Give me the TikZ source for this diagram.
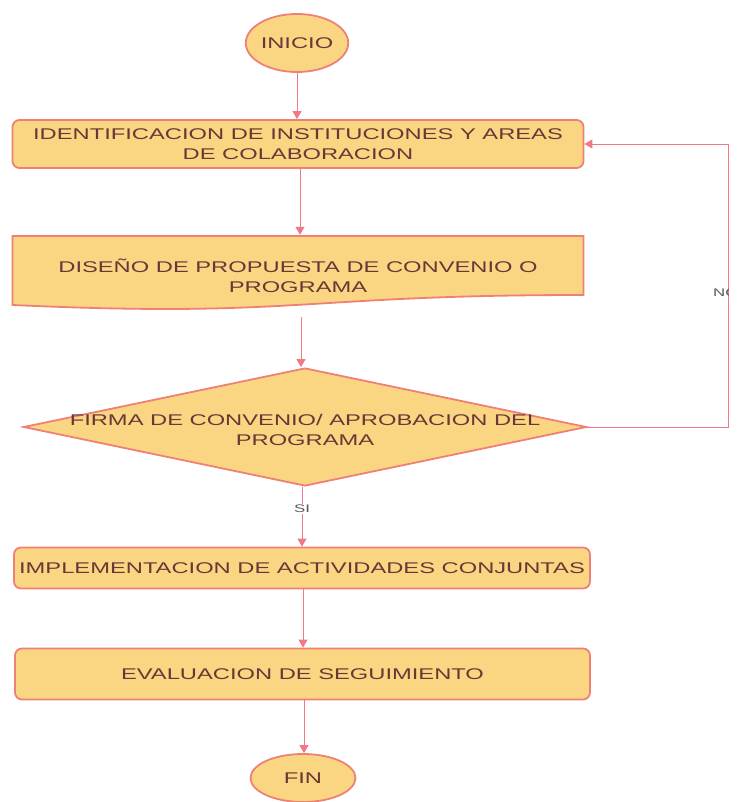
\documentclass[tikz,border=0pt]{standalone}
\usepackage{fontspec}
\setmainfont[FakeStretch=1.53]{Liberation Sans}
\usetikzlibrary{arrows.meta,shapes.geometric}
\definecolor{fillc}{RGB}{250,214,130}
\definecolor{edgec}{RGB}{238,128,118}
\definecolor{linec}{RGB}{240,120,135}
\definecolor{txtc}{RGB}{105,55,55}
\begin{document}
\begin{tikzpicture}[x=1pt,y=-1pt,
  every node/.style={font=\fontsize{15.5}{20}\selectfont, text=txtc},
  procbox/.style={draw=edgec, fill=fillc, line width=1.8pt, rounded corners=7pt, align=center, inner sep=2pt},
  term/.style={ellipse, draw=edgec, fill=fillc, line width=1.8pt, inner sep=0pt},
  decis/.style={diamond, draw=edgec, fill=fillc, line width=1.8pt, inner sep=0pt},
  docshape/.style={draw=edgec, fill=fillc, line width=1.8pt},
  conn/.style={draw=linec, line width=0.9pt, -{Triangle[length=8pt,width=9pt]}},
  plainline/.style={draw=linec, line width=0.9pt},
  lbl/.style={font=\fontsize{11}{13}\selectfont, text=black!65}]
\useasboundingbox (0,0) rectangle (739,802);

% terminals
\node[term, minimum width=95pt, minimum height=58pt] (ini) at (297,43) {INICIO};
\node[term, minimum width=105pt, minimum height=48pt] (fin) at (303,778) {FIN};

% box 1
\node[procbox, minimum width=571pt, minimum height=48pt] (b1) at (298,144)
  {IDENTIFICACION DE INSTITUCIONES Y AREAS\\DE COLABORACION};

% box 2 (document shape)
\draw[docshape] (12.5,236) -- (583.5,236) -- (583.5,295)
  .. controls (298,295) and (298,318) .. (12.5,305) -- cycle;
\node[align=center, minimum width=571pt, minimum height=82pt, inner sep=0pt] (b2) at (298,276)
  {DISE\~NO DE PROPUESTA DE CONVENIO O\\PROGRAMA};

% decision
\node[decis, minimum width=563pt, minimum height=118pt] (d) at (305,427) {};
\node[align=center] (dt) at (305,430) {FIRMA DE CONVENIO/ APROBACION DEL\\PROGRAMA};

% box 3, box 4
\node[procbox, minimum width=576pt, minimum height=41pt] (b3) at (302,568)
  {IMPLEMENTACION DE ACTIVIDADES CONJUNTAS};
\node[procbox, minimum width=575pt, minimum height=51pt] (b4) at (302.5,674)
  {EVALUACION DE SEGUIMIENTO};

% connectors
\draw[conn] (ini.south) -- (ini.south |- b1.north);
\draw[conn] (b1.south -| 300,0) -- (b2.north -| 300,0);
\draw[conn] (b2.south -| 301,0) -- (d.north -| 301,0);
\draw[conn] (d.south -| 302,0) -- (b3.north -| 302,0);
\draw[conn] (b3.south -| 303,0) -- (b4.north -| 303,0);
\draw[conn] (b4.south -| 304,0) -- (fin.north -| 304,0);

% NO loop
\coordinate (nr) at (728,0);
\draw[conn] (d.east) -- (d.east -| nr) -- (b1.east -| nr) -- (b1.east);

% labels
\node[lbl, fill=white, inner sep=1pt] (si) at (302,509) {SI};
\begin{scope}
  \clip (700,280) rectangle (728,306);
  \node[lbl, anchor=west, inner sep=0pt] (no) at (713,293) {NO};
\end{scope}
\end{tikzpicture}
\end{document}
